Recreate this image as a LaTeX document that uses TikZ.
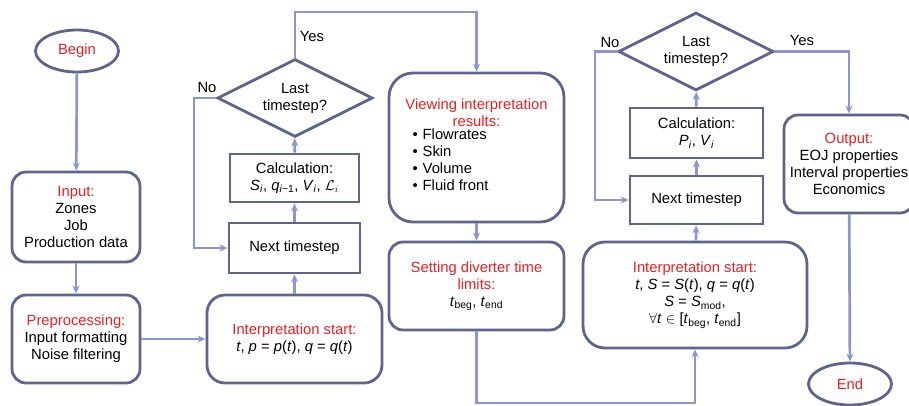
\documentclass[tikz,border=0pt]{standalone}
\usepackage{fontspec}
\setmainfont{Liberation Sans}
\usepackage{tikz}
\usetikzlibrary{arrows.meta, positioning, shapes.geometric}

\definecolor{boxc}{RGB}{95,100,140}
\definecolor{linec}{RGB}{140,150,205}
\definecolor{redt}{RGB}{235,30,35}

\newcommand{\hd}[1]{{\color{redt}#1}}
\newcommand{\vi}[1]{\textit{#1}}

\begin{document}
\begin{tikzpicture}[x=1pt, y=-1pt, >={Stealth[length=8pt,width=7pt]},
    font=\fontsize{14.8}{17}\selectfont]
    \tikzstyle{term}=[ellipse, draw=boxc, line width=2.8pt, minimum width=83pt, minimum height=42pt, inner sep=0pt, text=redt]
    \tikzstyle{rbox}=[rectangle, rounded corners=14pt, draw=boxc, line width=2.8pt, align=center, inner sep=0pt]
    \tikzstyle{sbox}=[rectangle, draw=boxc, line width=2.8pt, align=center, inner sep=0pt]
    \tikzstyle{dec}=[diamond, aspect=2, draw=boxc, line width=2.8pt, align=center, inner sep=0pt, minimum width=155pt, minimum height=78pt]
    \tikzstyle{flow}=[->, draw=linec, line width=2.7pt]

    \useasboundingbox (0,0) rectangle (909,405);

    % left column
    \node[term] (begin) at (77,51) {Begin};
    \node[rbox, minimum width=128pt, minimum height=90pt] (input) at (76,217)
        {\hd{Input:}\\Zones\\Job\\Production data};
    \node[rbox, minimum width=128pt, minimum height=88pt] (prep) at (76,339)
        {\hd{Preprocessing:}\\Input formatting\\Noise filtering};

    % first loop
    \node[rbox, rounded corners=18pt, minimum width=175pt, minimum height=88pt] (start1) at (294.5,339)
        {\hd{Interpretation start:}\\\vi{t}, \vi{p} = \vi{p}(\vi{t}), \vi{q} = \vi{q}(\vi{t})};
    \node[sbox, minimum width=131pt, minimum height=50pt] (next1) at (294.5,248) {Next timestep};
    \node[sbox, minimum width=129pt, minimum height=48pt] (calc1) at (294.5,178)
        {Calculation:\\\vi{S}\textsubscript{\vi{i}}, \vi{q}\textsubscript{\vi{i}−1}, \vi{V}\textsubscript{\vi{i}}, $\mathcal{L}_i$};
    \node[dec] (last1) at (295,98) {Last\\timestep?};

    % middle column
    \node[rbox, rounded corners=24pt, minimum width=175pt, minimum height=149pt] (view) at (476.5,147.5)
        {\hd{Viewing interpretation}\\\hd{results:}\\
        \begin{tabular}{@{}l@{\hspace{52pt}}}
        •\hspace{5pt}Flowrates\\
        •\hspace{5pt}Skin\\
        •\hspace{5pt}Volume\\
        •\hspace{5pt}Fluid front
        \end{tabular}};
    \node[rbox, minimum width=175pt, minimum height=88pt] (limits) at (476.5,286)
        {\hd{Setting diverter time}\\\hd{limits:}\\\vi{t}\textsubscript{beg}, \vi{t}\textsubscript{end}};

    % second loop
    \node[rbox, rounded corners=22pt, minimum width=224pt, minimum height=106pt] (start2) at (695,295)
        {\hd{Interpretation start:}\\\vi{t}, \vi{S} = \vi{S}(\vi{t}), \vi{q} = \vi{q}(\vi{t})\\
        \vi{S} = \vi{S}\textsubscript{mod},\\$\forall$\vi{t} $\in$ [\vi{t}\textsubscript{beg}, \vi{t}\textsubscript{end}]};
    \node[sbox, minimum width=133pt, minimum height=48pt] (next2) at (696.5,200) {Next timestep};
    \node[sbox, minimum width=133pt, minimum height=50pt] (calc2) at (696.5,133)
        {Calculation:\\\vi{P}\textsubscript{\vi{i}}, \vi{V}\textsubscript{\vi{i}}};
    \node[dec] (last2) at (696,51.5) {Last\\timestep?};

    % right column
    \node[rbox, minimum width=130pt, minimum height=98pt] (output) at (849,164)
        {\hd{Output:}\\EOJ properties\\Interval properties\\Economics};
    \node[term] (stop) at (850,384) {End};

    \coordinate (yes1) at (400,12);
    \coordinate (no1) at (194,170);
    \coordinate (low) at (600,403);
    \coordinate (no2) at (595,120);

    \draw[flow] (begin) -- (input);
    \draw[flow] (input) -- (prep);
    \draw[flow] (prep) -- (start1);
    \draw[flow] (start1) -- (next1);
    \draw[flow] (next1) -- (calc1);
    \draw[flow] (calc1) -- (last1);
    \draw[flow] (last1.north) |- (yes1) -| (view.north);
    \draw[flow] (last1.west) -| (no1) |- (next1.west);
    \draw[flow] (view) -- (limits);
    \draw[flow] (limits.south) |- (low) -| (start2.south);
    \draw[flow] (start2) -- (next2);
    \draw[flow] (next2) -- (calc2);
    \draw[flow] (calc2) -- (last2);
    \draw[flow] (last2.west) -| (no2) |- (next2.west);
    \draw[flow] (last2.east) -| (output.north);
    \draw[flow] (output) -- (stop);

    \node (yesl1) at (312,36) {Yes};
    \node (nol1) at (207,87) {No};
    \node (nol2) at (610,42) {No};
    \node (yesl2) at (802,40) {Yes};
\end{tikzpicture}
\end{document}
